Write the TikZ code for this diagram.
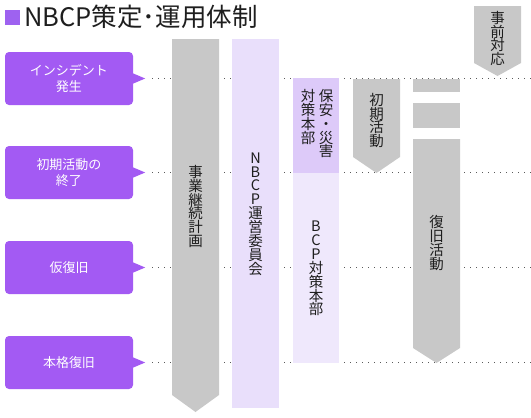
\documentclass[tikz,border=0pt]{standalone}
\usepackage{fontspec}
\setmainfont{Noto Sans CJK JP}
\definecolor{cpurple}{RGB}{163,90,243}
\definecolor{tpurple}{RGB}{158,98,240}
\definecolor{barg}{RGB}{200,200,200}
\definecolor{npurple}{RGB}{233,223,251}
\definecolor{hpurple}{RGB}{221,202,249}
\definecolor{bpurple}{RGB}{239,232,252}
\definecolor{dotc}{RGB}{90,90,90}
\definecolor{txt}{RGB}{30,30,30}
\begin{document}
\begin{tikzpicture}[x=1pt,y=-1pt,
  callout/.style={rectangle, rounded corners=4pt, fill=cpurple, text=white, minimum width=128pt, minimum height=53pt, align=center, font=\fontsize{13}{16}\selectfont, inner sep=0pt},
  vtext/.style={align=center, font=\fontsize{14.5}{13.9}\selectfont, inner sep=0pt, text=txt},
  dots/.style={dotc, line width=0.9pt, dash pattern=on 0.9pt off 5.1pt},
  graybar/.style={fill=barg},
]
\useasboundingbox (0,0) rectangle (531,418);
\coordinate (R) at (531,0);
% title
\fill[tpurple] (5,10) rectangle (20,25);
\node[anchor=west, font=\fontsize{25.5}{25.5}\selectfont, inner sep=0pt, text=txt] (title) at (24,16.5) {NBCP策定･運用体制};
% callouts
\node[callout] (c1) at (69,78.5) {インシデント\\発生};
\node[callout] (c2) at (69,172.5) {初期活動の\\終了};
\node[callout] (c3) at (69,267.5) {仮復旧};
\node[callout] (c4) at (69,362.5) {本格復旧};
\foreach \c in {c1,c2,c3,c4}{
  \fill[cpurple] ([xshift=-1pt]\c.east) ++(0,-5.5) -- ++(13,5.5) -- ++(-13,5.5) -- cycle;
  \draw[dots] ([xshift=19pt]\c.east) -- (\c.east -| R);
}
% bars
\fill[barg] (172,39) -- (219,39) -- (219,395) -- (195.5,412) -- (172,395) -- cycle;
\fill[npurple] (232,39) rectangle (279,408);
\fill[hpurple] (293,78) rectangle (339,173);
\fill[bpurple] (293,173) rectangle (339,363);
\fill[barg] (353,79) -- (400,79) -- (400,157) -- (376.5,173) -- (353,157) -- cycle;
\fill[barg] (413,79) rectangle (460,92);
\fill[barg] (413,103) rectangle (460,128);
\fill[barg] (413,139) -- (460,139) -- (460,348) -- (436.5,363) -- (413,348) -- cycle;
\fill[barg] (474,6) -- (521,6) -- (521,63) -- (497.5,76) -- (474,63) -- cycle;
% vertical labels
\node[vtext] (t1) at (195.5,206.5) {事\\業\\継\\続\\計\\画};
\node[vtext] (t2) at (255.5,214) {N\\B\\C\\P\\運\\営\\委\\員\\会};
\node[vtext, anchor=north] (t3a) at (326,89) {保\\安\\・\\災\\害};
\node[vtext, anchor=north] (t3b) at (308,89) {対\\策\\本\\部};
\node[vtext] (t3c) at (316,268.5) {B\\C\\P\\対\\策\\本\\部};
\node[vtext] (t4) at (376.5,120.5) {初\\期\\活\\動};
\node[vtext] (t5) at (436.5,243) {復\\旧\\活\\動};
\node[vtext] (t6) at (497.5,38.5) {事\\前\\対\\応};
\end{tikzpicture}
\end{document}
